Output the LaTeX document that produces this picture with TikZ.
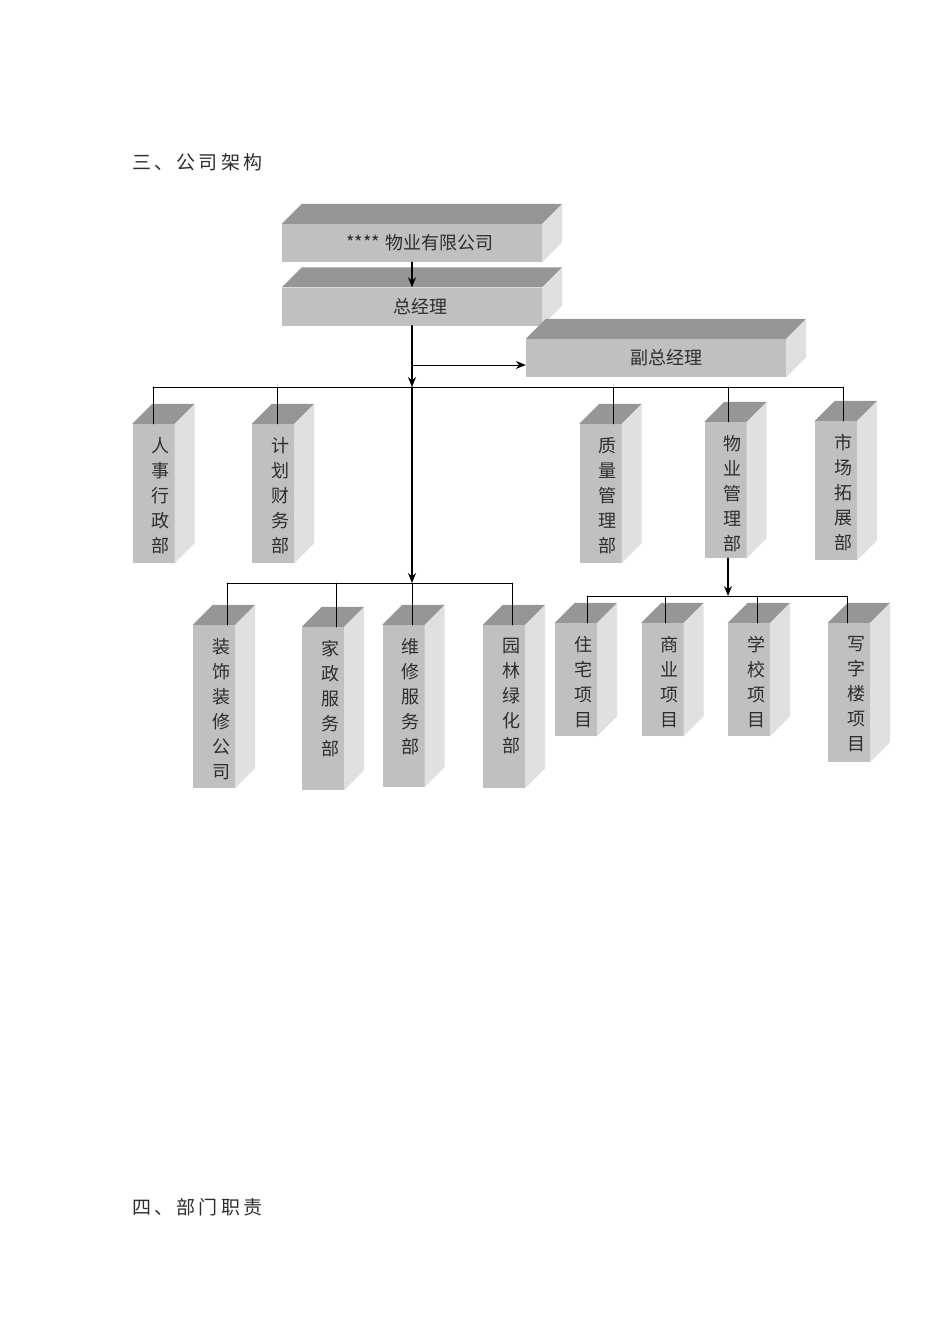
\documentclass[tikz,border=0pt]{standalone}
\usepackage{fontspec}
\setmainfont{Noto Sans CJK SC}
\newfontfamily\headfont[LetterSpace=17]{Noto Sans CJK SC}
\usepackage{xcolor}
\usepackage{tikz}
\usetikzlibrary{arrows.meta}
\usetikzlibrary{positioning}

\definecolor{frontgray}{RGB}{192,192,192}
\definecolor{topgray}{RGB}{150,150,150}
\definecolor{sidegray}{RGB}{224,224,224}
\definecolor{inkgray}{RGB}{45,45,45}

\tikzset{
  face/.style={fill=frontgray, draw=none, inner sep=0pt},
  hbox/.style={face, minimum width=260pt, minimum height=38pt, text=inkgray,
    font=\fontsize{18}{20}\selectfont},
  vtext/.style={align=center, text=inkgray, inner sep=0pt, anchor=north,
    xshift=7pt, yshift=-13pt, font=\fontsize{18}{25}\selectfont},
  dept/.style={face, minimum width=42pt, label={[vtext]north:#1}},
  head/.style={anchor=west, inner sep=0pt, text=inkgray,
    font=\headfont\fontsize{19}{22}\selectfont},
  link/.style={line width=1pt},
  trunk/.style={line width=1.4pt},
}

\begin{document}
\begin{tikzpicture}[x=1pt, y=-1pt, line cap=round, line join=round,
    >={Stealth[length=10pt,width=8pt]}]
  \useasboundingbox (0,0) rectangle (950,1344);
  %--- headings
    \node[head] (sec3) at (132,162) {三、公司架构};
    \node[head] (sec4) at (132,1207) {四、部门职责};
  %--- top boxes
    \node[hbox] (co)  at (412,243)   {\hspace*{16pt}****\hspace{6pt}物业有限公司};
    \node[hbox] (gm)  at (412,306.5) {\hspace*{16pt}总经理};
    \node[hbox] (vgm) at (656,358)   {\hspace*{20pt}副总经理};
  %--- departments
    \node[dept={人\\事\\行\\政\\部}, minimum height=139pt] (hr)  at (153.5,493.5) {};
    \node[dept={计\\划\\财\\务\\部}, minimum height=139pt] (fin) at (273,493.5) {};
    \node[dept={质\\量\\管\\理\\部}, minimum height=139pt] (qa)  at (600.5,493.5) {};
    \node[dept={物\\业\\管\\理\\部}, minimum height=136pt] (pm)  at (725.5,490) {};
    \node[dept={市\\场\\拓\\展\\部}, minimum height=139pt] (mkt) at (836,490.5) {};
  %--- companies under the general manager
    \node[dept={装\\饰\\装\\修\\公\\司}, minimum height=163pt] (deco) at (214,706.5) {};
    \node[dept={家\\政\\服\\务\\部}, minimum height=163pt] (home) at (323,708.5) {};
    \node[dept={维\\修\\服\\务\\部}, minimum height=162pt] (fix)  at (403.5,706) {};
    \node[dept={园\\林\\绿\\化\\部}, minimum height=163pt] (park) at (504,706.5) {};
  %--- projects
    \node[dept={住\\宅\\项\\目}, minimum height=113pt] (res) at (576,679.5) {};
    \node[dept={商\\业\\项\\目}, minimum height=113pt] (biz) at (662.5,679.5) {};
    \node[dept={学\\校\\项\\目}, minimum height=113pt] (sch) at (749,679.5) {};
    \node[dept={写\\字\\楼\\项\\目}, minimum height=139pt] (ofc) at (849,692.5) {};
  % top and side faces
    \foreach \b in {co,gm,vgm,hr,fin,qa,pm,mkt,deco,home,fix,park,res,biz,sch,ofc} {
      \fill[topgray] (\b.north west) -- ++(20,-20) -- ([shift={(20,-20)}]\b.north east)
        -- (\b.north east) -- cycle;
      \fill[sidegray] (\b.north east) -- ++(20,-20) -- ([shift={(20,-20)}]\b.south east)
        -- (\b.south east) -- cycle;
    }
  % bus points
    \coordinate (vjoin) at (412,365);
    \coordinate (tjoin) at (412,387);
    \coordinate (ljoin) at (412,583);
    \coordinate (rjoin) at (728,596);
  % arrows
    \draw[->, trunk] (co.south) -- (gm.north);
    \draw[->, trunk] (gm.south) -- (tjoin);
    \draw[->, trunk] (tjoin) -- (ljoin);
    \draw[->, link] (vjoin) -- (vjoin -| vgm.west);
    \draw[->, trunk] (rjoin |- pm.south) -- (rjoin);
  % buses
    \draw[link] (153,387) -- (843,387);
    \draw[link] (227,583) -- (512,583);
    \draw[link] (587,596) -- (847,596);
  % drops
    \foreach \b/\x in {hr/153, fin/277, qa/613, pm/728, mkt/843}
      \draw[link] (\x,387) -- (\x,0 |- \b.north);
    \foreach \b/\x in {deco/227, home/336, fix/412, park/512}
      \draw[link] (\x,583) -- (\x,0 |- \b.north);
    \foreach \b/\x in {res/587, biz/665, sch/757, ofc/847}
      \draw[link] (\x,596) -- (\x,0 |- \b.north);
\end{tikzpicture}
\end{document}
